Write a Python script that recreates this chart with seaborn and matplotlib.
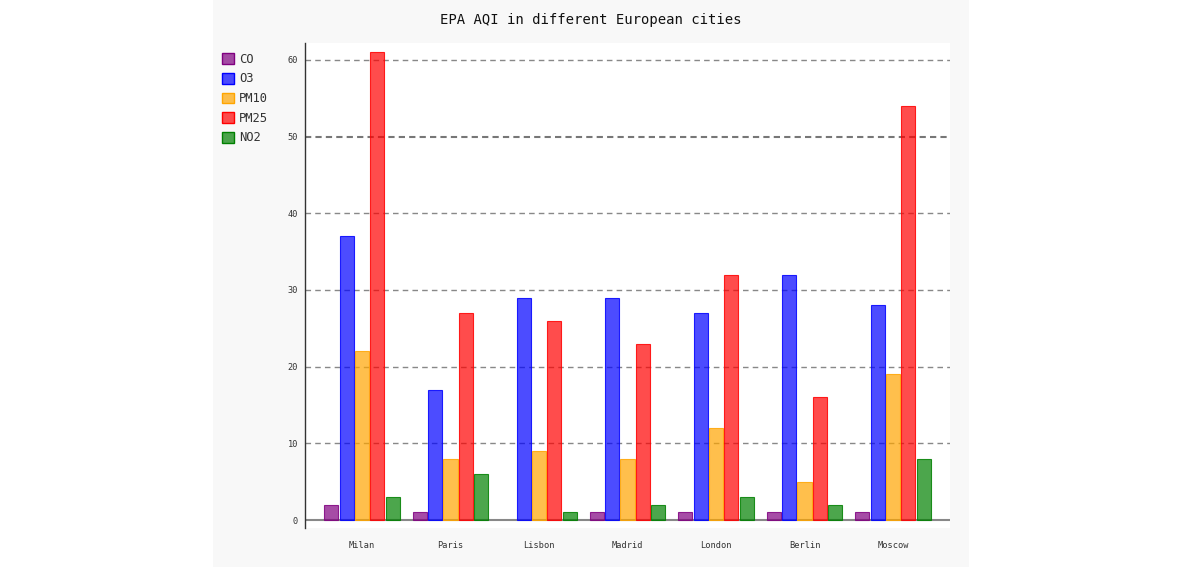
import matplotlib
matplotlib.use('Agg')
import matplotlib.pyplot as plt
import matplotlib.colors as mcolors
from matplotlib.patches import Rectangle, Patch
import pandas as pd
import seaborn as sns

# Data
cities = ['Milan', 'Paris', 'Lisbon', 'Madrid', 'London', 'Berlin', 'Moscow']
pollutants = ['CO', 'O3', 'PM10', 'PM25', 'NO2']
co = [2, 1, 0, 1, 1, 1, 1]
o3 = [37, 17, 29, 29, 27, 32, 28]
pm10 = [22, 8, 9, 8, 12, 5, 19]
pm25 = [61, 27, 26, 23, 32, 16, 54]
no2 = [3, 6, 1, 2, 3, 2, 8]
y_ticks = [0, 10, 20, 30, 40, 50, 60]

colors = ['#800080', '#0000ff', '#ffa500', '#ff0000', '#008000']

# long form table for seaborn
series = dict(zip(pollutants, [co, o3, pm10, pm25, no2]))
rows = []
for p in pollutants:
    for c, v in zip(cities, series[p]):
        rows.append({'city': c, 'pollutant': p, 'aqi': v})
df = pd.DataFrame(rows)

sns.set_style('white')
plt.rcParams['font.family'] = ['DejaVu Sans Mono']

fig = plt.figure(figsize=(11.82, 5.67), dpi=100)
fig.patch.set_facecolor('white')
# light grey panel behind the chart
fig.patches.append(Rectangle((213 / 1182, 0), (969 - 213) / 1182, 1,
                             transform=fig.transFigure, facecolor='#f8f8f8',
                             edgecolor='none', zorder=-10))

ax = fig.add_axes([305 / 1182, 1 - 528 / 567, (950 - 305) / 1182, (528 - 43) / 567])
ax.set_facecolor('white')

sns.barplot(data=df, x='city', y='aqi', hue='pollutant', order=cities,
            hue_order=pollutants, palette=colors, saturation=1,
            width=0.87, gap=0.09, ax=ax, legend=False, zorder=3)

# translucent fill, thin solid outline like the original
for cont, col in zip(ax.containers, colors):
    for bar in cont:
        bar.set_facecolor(mcolors.to_rgba(col, 0.7))
        bar.set_edgecolor(mcolors.to_rgba(col, 0.85))
        bar.set_linewidth(0.8 if bar.get_height() > 0 else 0)

ax.set_ylim(-1.04, 62.2)
ax.set_xlim(-0.644, 6.644)
ax.set_yticks(y_ticks)
ax.set_xlabel('')
ax.set_ylabel('')

ax.grid(axis='y', zorder=0)
for tick, gl in zip(y_ticks, ax.get_ygridlines()):
    if tick == 0:
        gl.set_color('#888888')
        gl.set_linestyle('-')
        gl.set_linewidth(1.5)
    elif tick == 50:
        gl.set_color('#777777')
        gl.set_linestyle((0, (3, 2)))
        gl.set_linewidth(1.5)
    else:
        gl.set_color('#888888')
        gl.set_linestyle((0, (4, 3)))
        gl.set_linewidth(1)

for s in ['top', 'right', 'bottom']:
    ax.spines[s].set_visible(False)
ax.spines['left'].set_color('#333333')
ax.spines['left'].set_linewidth(1)

ax.tick_params(axis='x', length=0, pad=9, labelsize=6.2, colors='#333333')
ax.tick_params(axis='y', length=0, pad=5, labelsize=6.2, colors='#333333')

fig.suptitle('EPA AQI in different European cities', fontsize=10,
             y=0.965, va='center', color='#111111')

handles = [Patch(facecolor=mcolors.to_rgba(c, 0.7), edgecolor=c, label=p)
           for p, c in zip(pollutants, colors)]
fig.legend(handles=handles, loc='upper left',
           bbox_to_anchor=(217 / 1182, 1 - 48 / 567), frameon=False,
           fontsize=8.7, handlelength=1.0, handleheight=1.0,
           handletextpad=0.4, labelspacing=0.55, borderaxespad=0,
           labelcolor='#333333')

fig.savefig('out.png', dpi=100)
